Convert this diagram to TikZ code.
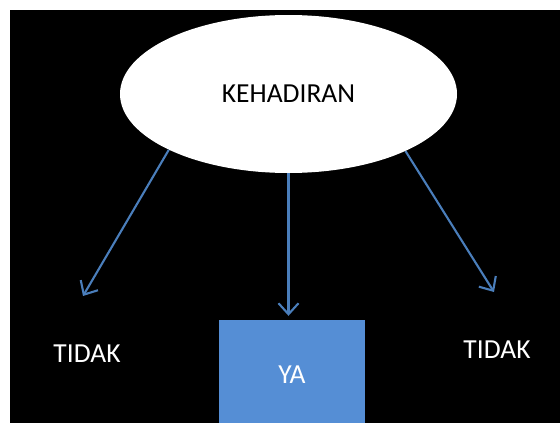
\documentclass[tikz,border=0pt]{standalone}
\usepackage{fontspec}
\setmainfont{Carlito}
\usetikzlibrary{arrows.meta,shapes.geometric}
\definecolor{arrowblue}{RGB}{74,126,187}
\definecolor{boxblue}{RGB}{85,142,213}
\tikzset{
  lbl/.style={text=white,font=\fontsize{27.5}{32}\selectfont,inner sep=0pt},
  conn/.style={draw=arrowblue,line width=2.1pt,-{Straight Barb[length=11pt,width=20pt,line width=2.1pt]}}
}
\begin{document}
\begin{tikzpicture}[x=1pt,y=-1pt]
\useasboundingbox (0,0) rectangle (560,423);
\fill[white] (0,0) rectangle (560,423);
\fill[black] (10,10) rectangle (560,423);
\node[ellipse,fill=white,minimum width=337pt,minimum height=158pt,inner sep=0pt,font=\fontsize{27.5}{32}\selectfont] (k) at (288.5,94) {KEHADIRAN};
\node[lbl] (t1) at (87,354) {TIDAK};
\node[lbl] (t2) at (497,350) {TIDAK};
\node[rectangle,fill=boxblue,minimum width=146pt,minimum height=104pt,inner sep=0pt] (ya) at (292,372) {};
\node[lbl] (yat) at (292,375) {YA};
\coordinate (le) at (83,296);
\coordinate (re) at (494,292);
\draw[conn] (k.205.7) -- (le);
\draw[conn] (k.south) -- ([yshift=4pt]ya.north -| k.south);
\draw[conn] (k.334) -- (re);
\end{tikzpicture}
\end{document}
